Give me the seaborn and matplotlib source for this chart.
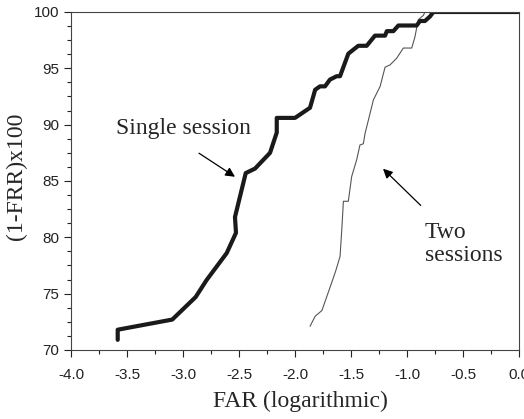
import numpy as np
import pandas as pd
import seaborn as sns
import matplotlib
matplotlib.use("Agg")
import matplotlib.pyplot as plt
from matplotlib.ticker import MultipleLocator

# single session curve (log FAR, (1-FRR)x100)
single_far = [-3.583, -3.583, -3.096, -2.887, -2.79, -2.61, -2.527, -2.536, -2.44, -2.357,
              -2.223, -2.163, -2.163, -2.0, -1.866, -1.82, -1.777, -1.732, -1.688, -1.628,
              -1.598, -1.524, -1.435, -1.36, -1.286, -1.196, -1.18, -1.122, -1.077, -0.914,
              -0.884, -0.84, -0.795, -0.765, 0.0]
single_gar = [70.9, 71.8, 72.7, 74.7, 76.2, 78.6, 80.4, 81.8, 85.7, 86.1,
              87.5, 89.3, 90.6, 90.6, 91.5, 93.1, 93.4, 93.4, 94.0, 94.3,
              94.3, 96.3, 97.0, 97.0, 97.9, 97.9, 98.3, 98.3, 98.8, 98.8,
              99.2, 99.2, 99.6, 100.0, 100.0]

# two sessions curve
two_far = [-1.866, -1.82, -1.76, -1.70, -1.658, -1.634, -1.598, -1.583, -1.568, -1.524,
           -1.494, -1.449, -1.42, -1.39, -1.375, -1.33, -1.30, -1.24, -1.196, -1.152,
           -1.092, -1.033, -0.958, -0.929, -0.90, -0.854, -0.84, 0.0]
two_gar = [72.1, 73.0, 73.5, 75.2, 76.4, 77.1, 78.3, 80.6, 83.2, 83.2,
           85.4, 86.9, 88.2, 88.3, 89.2, 91.0, 92.2, 93.4, 95.1, 95.3,
           95.9, 96.8, 96.8, 97.8, 99.3, 99.7, 100.0, 100.0]

df_single = pd.DataFrame({"far": single_far, "gar": single_gar})
df_two = pd.DataFrame({"far": two_far, "gar": two_gar})

sns.set_style("ticks")
plt.rcParams['font.family'] = ['Liberation Sans', 'DejaVu Sans']

fig = plt.figure(figsize=(5.24, 4.19), dpi=100)
ax = fig.add_axes([0.1355, 0.1647, 0.855, 0.8067])

sns.lineplot(data=df_two, x="far", y="gar", sort=False, estimator=None,
             color="#555555", linewidth=0.8, ax=ax)
sns.lineplot(data=df_single, x="far", y="gar", sort=False, estimator=None,
             color="#1a1a1a", linewidth=3.0, ax=ax)

ax.set_xlim(-4.0, 0.0)
ax.set_ylim(70, 100)
ax.xaxis.set_major_locator(MultipleLocator(0.5))
ax.xaxis.set_minor_locator(MultipleLocator(0.25))
ax.yaxis.set_major_locator(MultipleLocator(5))
ax.yaxis.set_minor_locator(MultipleLocator(1.25))
ax.set_xticklabels([f"{v:.1f}" for v in ax.get_xticks()])
ax.tick_params(axis="both", which="major", direction="out", length=5, width=0.8,
               labelsize=11, colors="#222222")
ax.tick_params(axis="both", which="minor", direction="out", length=3, width=0.8,
               colors="#222222")
ax.tick_params(axis="x", pad=8)
for s in ax.spines.values():
    s.set_visible(True)
    s.set_color("#444444")
    s.set_linewidth(0.8)

serif = ['Liberation Serif', 'DejaVu Serif']
ax.set_xlabel("FAR (logarithmic)", fontsize=17, family=serif)
ax.xaxis.set_label_coords(0.513, -0.12)
ax.set_ylabel("(1-FRR)x100", fontsize=17, family=serif)
ax.yaxis.set_label_coords(-0.098, 0.515)

ax.text(-3.60, 89.7, "Single session", fontsize=17, family=serif,
        ha="left", va="center")
ax.annotate("", xy=(-2.515, 85.24), xytext=(-2.878, 87.6),
            arrowprops=dict(arrowstyle="-|>", color="black", lw=0.9,
                            mutation_scale=14))
ax.text(-0.839, 79.4, "Two\nsessions", fontsize=17, family=serif,
        ha="left", va="center", linespacing=1.1)
ax.annotate("", xy=(-1.232, 86.26), xytext=(-0.86, 82.66),
            arrowprops=dict(arrowstyle="-|>", color="black", lw=0.9,
                            mutation_scale=14))

fig.savefig("out.png", dpi=100)
